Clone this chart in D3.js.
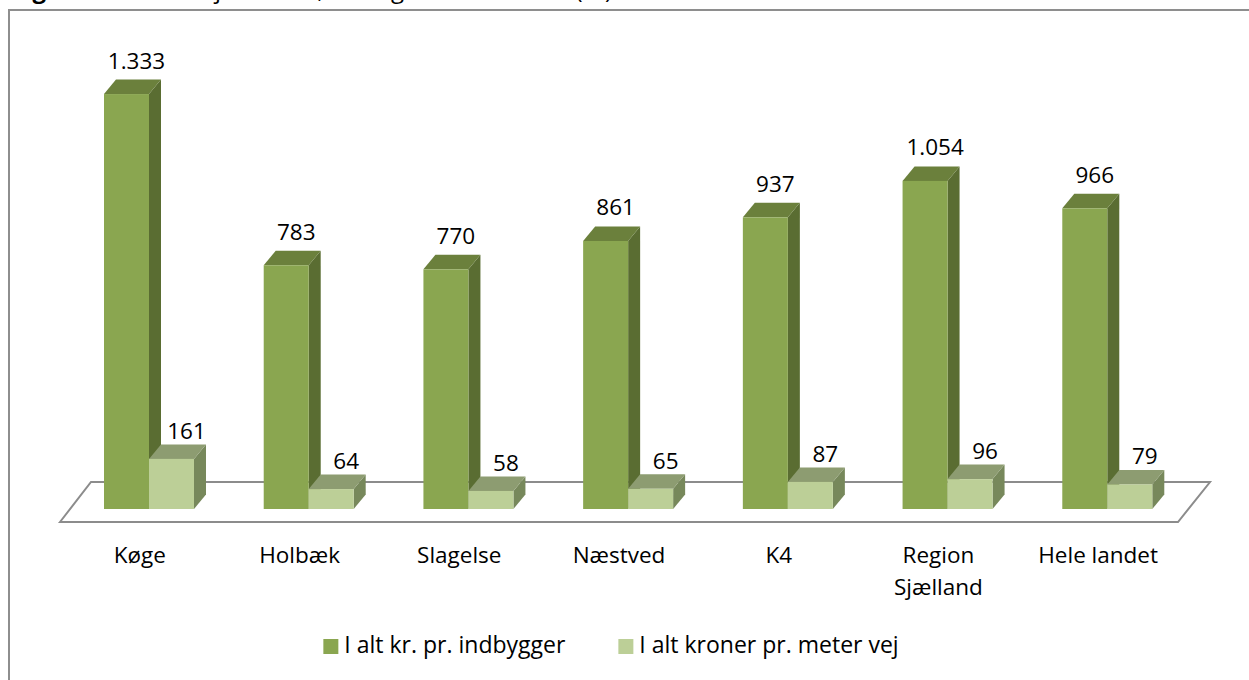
<!DOCTYPE html>
<html>
<head>
<meta charset="utf-8">
<script src="https://cdn.jsdelivr.net/npm/d3@7"></script>
<style>
  html, body { margin: 0; padding: 0; background: #fff; }
  svg { display: block; font-family: "Open Sans", "DejaVu Sans", sans-serif; }
</style>
</head>
<body>
<svg id="chart" width="1249" height="680"></svg>
<script>
// ---- data ----
const categories = ["Køge", "Holbæk", "Slagelse", "Næstved", "K4", "Region Sjælland", "Hele landet"];
const categoryLines = [["Køge"], ["Holbæk"], ["Slagelse"], ["Næstved"], ["K4"], ["Region", "Sjælland"], ["Hele landet"]];
const seriesNames = ["I alt kr. pr. indbygger", "I alt kroner pr. meter vej"];
const perIndbygger = [1333, 783, 770, 861, 937, 1054, 966];
const perMeterVej = [161, 64, 58, 65, 87, 96, 79];
const titleBold = "Figur 5:";
const titleRest = " Drift af vejområdet, i alt og relativt samlet (kr)";

// ---- styles ----
const faces = [
  { front: "#8aa650", top: "#6b803c", side: "#5a6d32", labelDx: 10, labelDy: -11 },
  { front: "#bccf97", top: "#8d9c71", side: "#77885b", labelDx: 15, labelDy: -5.5 }
];
const depthX = 12, depthY = -14.5;

const svg = d3.select("#chart");
const fmt = d3.formatLocale({ decimal: ",", thousands: ".", grouping: [3], currency: ["", " kr"] }).format(",d");

// title, cut off at the top edge as in the reference
const title = svg.append("text").attr("x", 12).attr("y", -2)
  .attr("font-size", 24).attr("fill", "#000");
title.append("tspan").attr("font-weight", "bold").text(titleBold);
title.append("tspan").text(titleRest);

// chart border (extends beyond the right and bottom edges)
svg.append("path")
  .attr("d", "M9,690 L9,10 L1260,10")
  .attr("fill", "none").attr("stroke", "#8e8e8e").attr("stroke-width", 2);

// scales
const floorFront = 522, floorBack = 482, floorDx = 31;
const x = d3.scaleBand().domain(categories).range([60, 1178]);
const inner = d3.scaleBand().domain(seriesNames).range([44, 134]);
const y = d3.scaleLinear().domain([0, 1400]).range([509, 73.2]);

// floor
const x0 = x.range()[0], x1 = x.range()[1];
svg.append("path")
  .attr("d", `M${x0},${floorFront} L${x0 + floorDx},${floorBack} L${x1 + floorDx + 1},${floorBack} L${x1},${floorFront} Z`)
  .attr("fill", "#fff").attr("stroke", "#8c8c8c").attr("stroke-width", 2).attr("stroke-linejoin", "miter");

const seriesData = [perIndbygger, perMeterVej];

// bars
const groups = svg.append("g");
categories.forEach((c, i) => {
  seriesNames.forEach((s, si) => {
    const v = seriesData[si][i];
    const f = faces[si];
    const bx = x(c) + inner(s);
    const bw = inner.bandwidth();
    const by = y(v), b0 = y(0);
    const g = groups.append("g");
    g.append("path")
      .attr("d", `M${bx + bw},${b0} L${bx + bw + depthX},${b0 + depthY} L${bx + bw + depthX},${by + depthY} L${bx + bw},${by} Z`)
      .attr("fill", f.side);
    g.append("path")
      .attr("d", `M${bx},${by} L${bx + depthX},${by + depthY} L${bx + bw + depthX},${by + depthY} L${bx + bw},${by} Z`)
      .attr("fill", f.top);
    g.append("rect").attr("x", bx).attr("y", by).attr("width", bw).attr("height", b0 - by)
      .attr("fill", f.front);
  });
});

// value labels
categories.forEach((c, i) => {
  seriesNames.forEach((s, si) => {
    const v = seriesData[si][i];
    const f = faces[si];
    svg.append("text")
      .attr("x", x(c) + inner(s) + inner.bandwidth() / 2 + f.labelDx)
      .attr("y", y(v) + depthY + f.labelDy)
      .attr("text-anchor", "middle").attr("font-size", 22.5).attr("fill", "#000")
      .text(fmt(v));
  });
});

// category labels
categories.forEach((c, i) => {
  const t = svg.append("text")
    .attr("x", x(c) + x.bandwidth() / 2).attr("y", 563)
    .attr("text-anchor", "middle").attr("font-size", 22.5).attr("fill", "#000");
  categoryLines[i].forEach((ln, li) => {
    t.append("tspan").attr("x", x(c) + x.bandwidth() / 2).attr("dy", li === 0 ? 0 : 32).text(ln);
  });
});

// legend
const legend = svg.append("g");
const items = seriesNames.map((s, si) => {
  const g = legend.append("g");
  g.append("rect").attr("width", 15).attr("height", 15).attr("y", 639).attr("fill", faces[si].front);
  const t = g.append("text").attr("x", 21).attr("y", 653).attr("font-size", 23).attr("fill", "#000").text(s);
  return { g, w: 21 + t.node().getComputedTextLength() };
});
const gap = 53;
const total = items[0].w + gap + items[1].w;
let lx = 611 - total / 2;
items.forEach(it => { it.g.attr("transform", `translate(${lx},0)`); lx += it.w + gap; });
</script>
</body>
</html>
